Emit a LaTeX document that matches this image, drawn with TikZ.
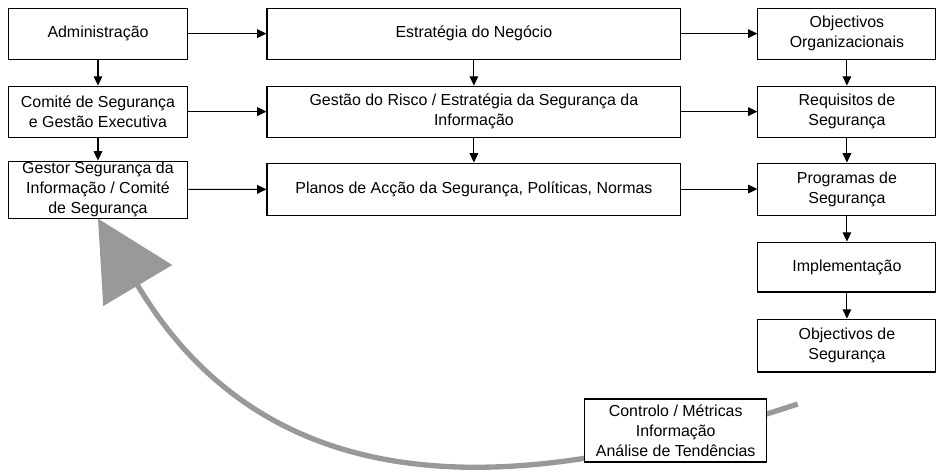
\documentclass[tikz,border=0pt]{standalone}
\usepackage{fontspec}
\setmainfont{Liberation Sans}
\usetikzlibrary{arrows.meta, positioning}

\begin{document}
\begin{tikzpicture}[
  blk/.style={rectangle,draw=black,fill=white,line width=0.8pt,minimum height=1.35cm,align=center,inner sep=0.5pt,font=\fontsize{12}{15}\selectfont},
  lcol/.style={blk,minimum width=4.76cm},
  mcol/.style={blk,minimum width=10.95cm},
  rcol/.style={blk,minimum width=4.71cm},
  fl/.style={-{Triangle[length=7pt,width=6.5pt]},line width=0.8pt},
  fb/.style={-{Triangle[length=2.06cm,width=2.09cm]},line width=4pt,draw=black!40}
]
  \useasboundingbox (0,0) rectangle (24.82,12.49);

  \node[lcol] (adm)    at (2.593,11.60) {Administração};
  \node[mcol] (strat)  at (12.54,11.60) {Estratégia do Negócio};
  \node[rcol] (objorg) at (22.41,11.60) {Objectivos\\Organizacionais};
  \node[lcol] (com)    at (2.593,9.537) {Comité de Segurança\\e Gestão Executiva};
  \node[mcol] (risk)   at (12.54,9.537) {Gestão do Risco / Estratégia da Segurança da\\Informação};
  \node[rcol] (req)    at (22.41,9.537) {Requisitos de\\Segurança};
  \node[lcol, minimum height=1.508cm] (gsi) at (2.593,7.474) {Gestor Segurança da\\Informação / Comité\\de Segurança};
  \node[mcol, minimum height=1.376cm] (plans) at (12.54,7.487) {Planos de Acção da Segurança, Políticas, Normas};
  \node[rcol, minimum height=1.376cm] (prog)  at (22.41,7.487) {Programas de\\Segurança};
  \node[rcol, minimum height=1.32cm] (impl)   at (22.41,5.423) {Implementação};
  \node[rcol, minimum height=1.40cm] (objseg) at (22.41,3.347) {Objectivos de\\Segurança};
  \coordinate (fbstart) at (21.11,1.80);

  \draw[fl] (adm) -- (strat);
  \draw[fl] (strat) -- (objorg);
  \draw[fl] (com) -- (risk);
  \draw[fl] (risk) -- (req);
  \draw[fl] (gsi) -- (plans);
  \draw[fl] (plans) -- (prog);
  \draw[fl] (adm) -- (com);
  \draw[fl] (com) -- (gsi);
  \draw[fl] (strat) -- (risk);
  \draw[fl] (risk) -- (plans);
  \draw[fl] (objorg) -- (req);
  \draw[fl] (req) -- (prog);
  \draw[fl] (prog) -- (impl);
  \draw[fl] (impl) -- (objseg);

  % retorno
  \draw[fb] (fbstart) .. controls (15.77,0.053) and (7.725,-1.931) .. (gsi.south);
  \node[blk, minimum width=4.815cm, minimum height=1.667cm] (ctrl) at (17.88,1.098) {Controlo / Métricas\\Informação\\Análise de Tendências};
\end{tikzpicture}
\end{document}
